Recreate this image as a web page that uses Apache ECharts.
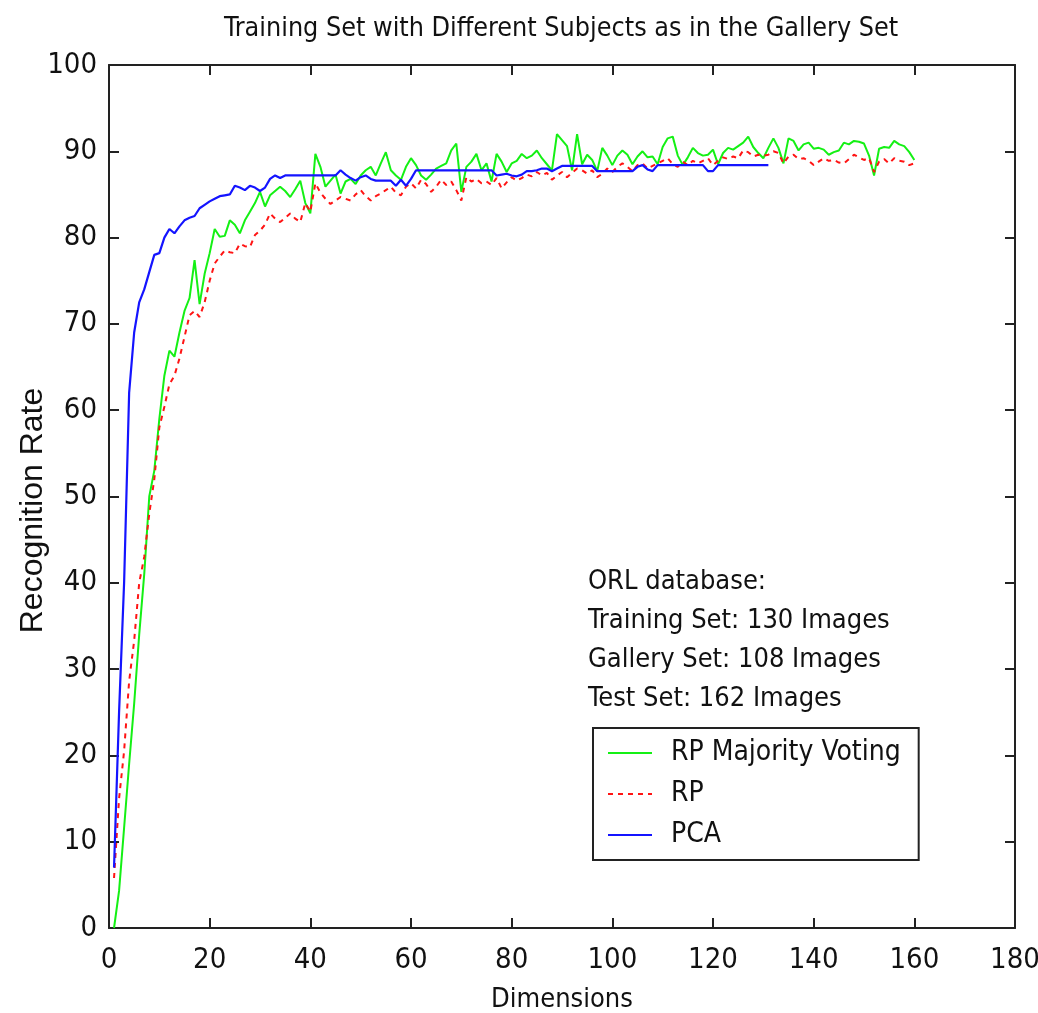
<!DOCTYPE html>
<html>
<head>
<meta charset="utf-8">
<script src="https://cdn.jsdelivr.net/npm/echarts@6/dist/echarts.min.js"></script>
<style>
  html, body { margin: 0; padding: 0; background: #fff; }
  #chart { width: 1038px; height: 1013px; }
</style>
</head>
<body>
<div id="chart"></div>
<script>
// recognition rate vs. number of dimensions (1..160)
var rpVoting = [
  0, 4.3, 11.6, 19, 26, 34, 41, 50, 53, 59,
  64, 66.9, 66.2, 69, 71.5, 73, 77.4, 72.3, 75.8, 78.2,
  81, 80.1, 80.2, 82, 81.5, 80.5, 82, 83, 84, 85.3,
  83.6, 84.9, 85.4, 85.9, 85.4, 84.7, 85.6, 86.6, 84, 82.8,
  89.7, 88.2, 85.9, 86.6, 87.3, 85.1, 86.5, 86.8, 86.2, 87.2,
  87.8, 88.2, 87.2, 88.6, 89.9, 87.8, 87.2, 86.7, 88.2, 89.2,
  88.4, 87.2, 86.7, 87.3, 88, 88.3, 88.6, 90.1, 90.9, 85.3,
  88.2, 88.8, 89.7, 87.8, 88.6, 86.5, 89.7, 88.8, 87.6, 88.6,
  88.9, 89.7, 89.2, 89.5, 90.1, 89.2, 88.5, 87.8, 92, 91.3,
  90.6, 87.8, 92, 88.5, 89.6, 89, 87.7, 90.4, 89.5, 88.4,
  89.5, 90.1, 89.6, 88.5, 89.4, 90, 89.3, 89.4, 88.5, 90.5,
  91.5, 91.7, 89.5, 88.4, 89.3, 90.4, 89.8, 89.5, 89.6, 90.2,
  88.5, 89.8, 90.4, 90.2, 90.6, 91, 91.7, 90.5, 89.8, 89.2,
  90.4, 91.5, 90.4, 88.6, 91.5, 91.2, 90.1, 90.8, 91, 90.3,
  90.4, 90.2, 89.6, 89.9, 90.1, 91, 90.8, 91.2, 91.1, 90.9,
  89.5, 87.2, 90.3, 90.5, 90.4, 91.2, 90.8, 90.6, 89.9, 89
];
var rp = [
  5.8, 15, 20.5, 28.6, 33.3, 40, 43, 48, 52, 58,
  60.4, 63, 64, 66, 68.5, 71, 71.5, 70.8, 72.5, 75,
  77, 77.8, 78.5, 78.3, 78.2, 79.3, 79, 78.9, 80.3, 80.8,
  81.5, 82.8, 82.2, 81.8, 82.3, 82.8, 82.2, 81.8, 84, 83,
  86.3, 85.2, 84.5, 83.9, 84.3, 84.7, 84.5, 84.3, 85, 85.5,
  84.8, 84.3, 84.8, 85.1, 85.5, 85.9, 85.2, 84.9, 85.9, 86.3,
  85.7, 86.7, 86.2, 85.3, 85.9, 86.7, 86.1, 86.5, 85.5, 84.3,
  87, 86.5, 86.8, 86.3, 86.5, 86.1, 86.9, 85.7, 86.4, 87,
  86.6, 86.9, 87.3, 87.1, 87.6, 87.2, 87.5, 86.7, 87.2, 87.6,
  87, 87.5, 88, 87.8, 87.4, 87.8, 87, 87.4, 88, 87.6,
  88.2, 88.6, 88.2, 87.7, 88.4, 88.6, 88, 88.3, 88.6, 88.9,
  89.2, 88.5, 88.2, 88.8, 88.4, 88.9, 88.6, 88.9, 89.2, 88.4,
  88.9, 89.3, 89.1, 89.4, 89.2, 90.1, 89.9, 89.4, 89.6, 89.5,
  89.6, 90, 89.8, 88.6, 89.4, 89.6, 89.1, 89.2, 88.9, 88.4,
  88.8, 89.2, 88.9, 89, 88.7, 88.6, 89.1, 89.6, 89.3, 89,
  89.2, 87.6, 88.8, 89.1, 88.6, 89.2, 88.9, 88.8, 88.4, 88.6
];
var pca = [
  7, 25, 40, 62, 69, 72.5, 74, 76, 78, 78.2,
  80, 81, 80.5, 81.3, 82, 82.3, 82.5, 83.4, 83.8, 84.2,
  84.5, 84.8, 84.9, 85, 86, 85.8, 85.5, 86, 85.8, 85.4,
  85.8, 86.8, 87.2, 86.9, 87.2, 87.2, 87.2, 87.2, 87.2, 87.2,
  87.2, 87.2, 87.2, 87.2, 87.2, 87.8, 87.3, 86.9, 86.6, 87,
  87.2, 86.8, 86.6, 86.6, 86.6, 86.6, 86, 86.7, 86, 86.8,
  87.8, 87.8, 87.8, 87.8, 87.8, 87.8, 87.8, 87.8, 87.8, 87.8,
  87.8, 87.8, 87.8, 87.8, 87.8, 87.8, 87.2, 87.3, 87.4, 87.2,
  87.1, 87.3, 87.7, 87.7, 87.8, 88, 88, 87.7, 88, 88.3,
  88.3, 88.3, 88.3, 88.3, 88.3, 88.3, 87.7, 87.7, 87.7, 87.7,
  87.7, 87.7, 87.7, 87.7, 88.2, 88.4, 87.9, 87.7, 88.4, 88.4,
  88.4, 88.4, 88.4, 88.4, 88.4, 88.4, 88.4, 88.4, 87.7, 87.7,
  88.4, 88.4, 88.4, 88.4, 88.4, 88.4, 88.4, 88.4, 88.4, 88.4,
  88.4
];
var seriesNames = ["RP Majority Voting", "RP", "PCA"];
var infoLines = [
  "ORL database:",
  "Training Set: 130 Images",
  "Gallery Set: 108 Images",
  "Test Set: 162 Images"
];

var narrow = "'Liberation Sans Narrow', 'DejaVu Sans Condensed', Arial, sans-serif";

// pair each value with its dimension number (1, 2, 3, ...)
function toPoints(values) {
  return values.map(function (v, i) { return [i + 1, v]; });
}

var chart = echarts.init(document.getElementById("chart"));

var axisLineStyle = { color: "#222", width: 2 };

var option = {
  backgroundColor: "#ffffff",
  animation: false,
  title: [
    {
      text: "Training Set with Different Subjects as in the Gallery Set",
      left: 219,
      top: 11,
      textStyle: { fontFamily: narrow, fontSize: 26.7, fontWeight: "normal", color: "#111" }
    },
    {
      text: infoLines.join("\n"),
      left: 583,
      top: 557,
      textStyle: { fontFamily: narrow, fontSize: 27, fontWeight: "normal", color: "#111", lineHeight: 39 }
    }
  ],
  legend: {
    orient: "vertical",
    left: 593,
    top: 728,
    padding: [11, 18, 11, 14],
    itemGap: 13,
    itemWidth: 44,
    itemHeight: 14,
    borderColor: "#222",
    borderWidth: 2,
    backgroundColor: "#fff",
    itemStyle: { opacity: 0 },
    textStyle: { fontFamily: narrow, fontSize: 28, color: "#111", padding: [0, 0, 0, 14] },
    data: seriesNames
  },
  grid: {
    left: 109,
    right: 23,
    top: 65,
    bottom: 85,
    outerBoundsMode: "none"
  },
  xAxis: [
    {
      type: "value",
      min: 0,
      max: 180,
      interval: 20,
      name: "Dimensions",
      nameLocation: "middle",
      nameGap: 58,
      nameTextStyle: { fontFamily: narrow, fontSize: 27, color: "#111" },
      axisLine: { onZero: false, lineStyle: axisLineStyle },
      axisTick: { inside: true, length: 10, lineStyle: axisLineStyle },
      axisLabel: { fontFamily: narrow, fontSize: 29, color: "#111", margin: 18 },
      splitLine: { show: false }
    },
    {
      type: "value",
      position: "top",
      min: 0,
      max: 180,
      interval: 20,
      axisLine: { onZero: false, lineStyle: axisLineStyle },
      axisTick: { inside: true, length: 10, lineStyle: axisLineStyle },
      axisLabel: { show: false },
      splitLine: { show: false }
    }
  ],
  yAxis: [
    {
      type: "value",
      min: 0,
      max: 100,
      interval: 10,
      name: "Recognition Rate",
      nameLocation: "middle",
      nameGap: 60,
      nameMoveOverlap: false,
      nameTextStyle: {
        fontFamily: "'Liberation Sans', Arial, sans-serif",
        fontSize: 32,
        color: "#111",
        padding: [0, 28, 0, 0]
      },
      axisLine: { onZero: false, lineStyle: axisLineStyle },
      axisTick: { inside: true, length: 10, lineStyle: axisLineStyle },
      axisLabel: { fontFamily: narrow, fontSize: 29, color: "#111", margin: 12 },
      splitLine: { show: false }
    },
    {
      type: "value",
      position: "right",
      min: 0,
      max: 100,
      interval: 10,
      axisLine: { onZero: false, lineStyle: axisLineStyle },
      axisTick: { inside: true, length: 10, lineStyle: axisLineStyle },
      axisLabel: { show: false },
      splitLine: { show: false }
    }
  ],
  series: [
    {
      name: seriesNames[0],
      type: "line",
      symbol: "none",
      lineStyle: { color: "#14f014", width: 2 },
      itemStyle: { color: "#14f014" },
      data: toPoints(rpVoting)
    },
    {
      name: seriesNames[1],
      type: "line",
      symbol: "none",
      lineStyle: { color: "#ff1414", width: 2, type: [5, 5] },
      itemStyle: { color: "#ff1414" },
      data: toPoints(rp)
    },
    {
      name: seriesNames[2],
      type: "line",
      symbol: "none",
      lineStyle: { color: "#1414ff", width: 2.2 },
      itemStyle: { color: "#1414ff" },
      data: toPoints(pca)
    }
  ]
};

chart.setOption(option);
</script>
</body>
</html>
